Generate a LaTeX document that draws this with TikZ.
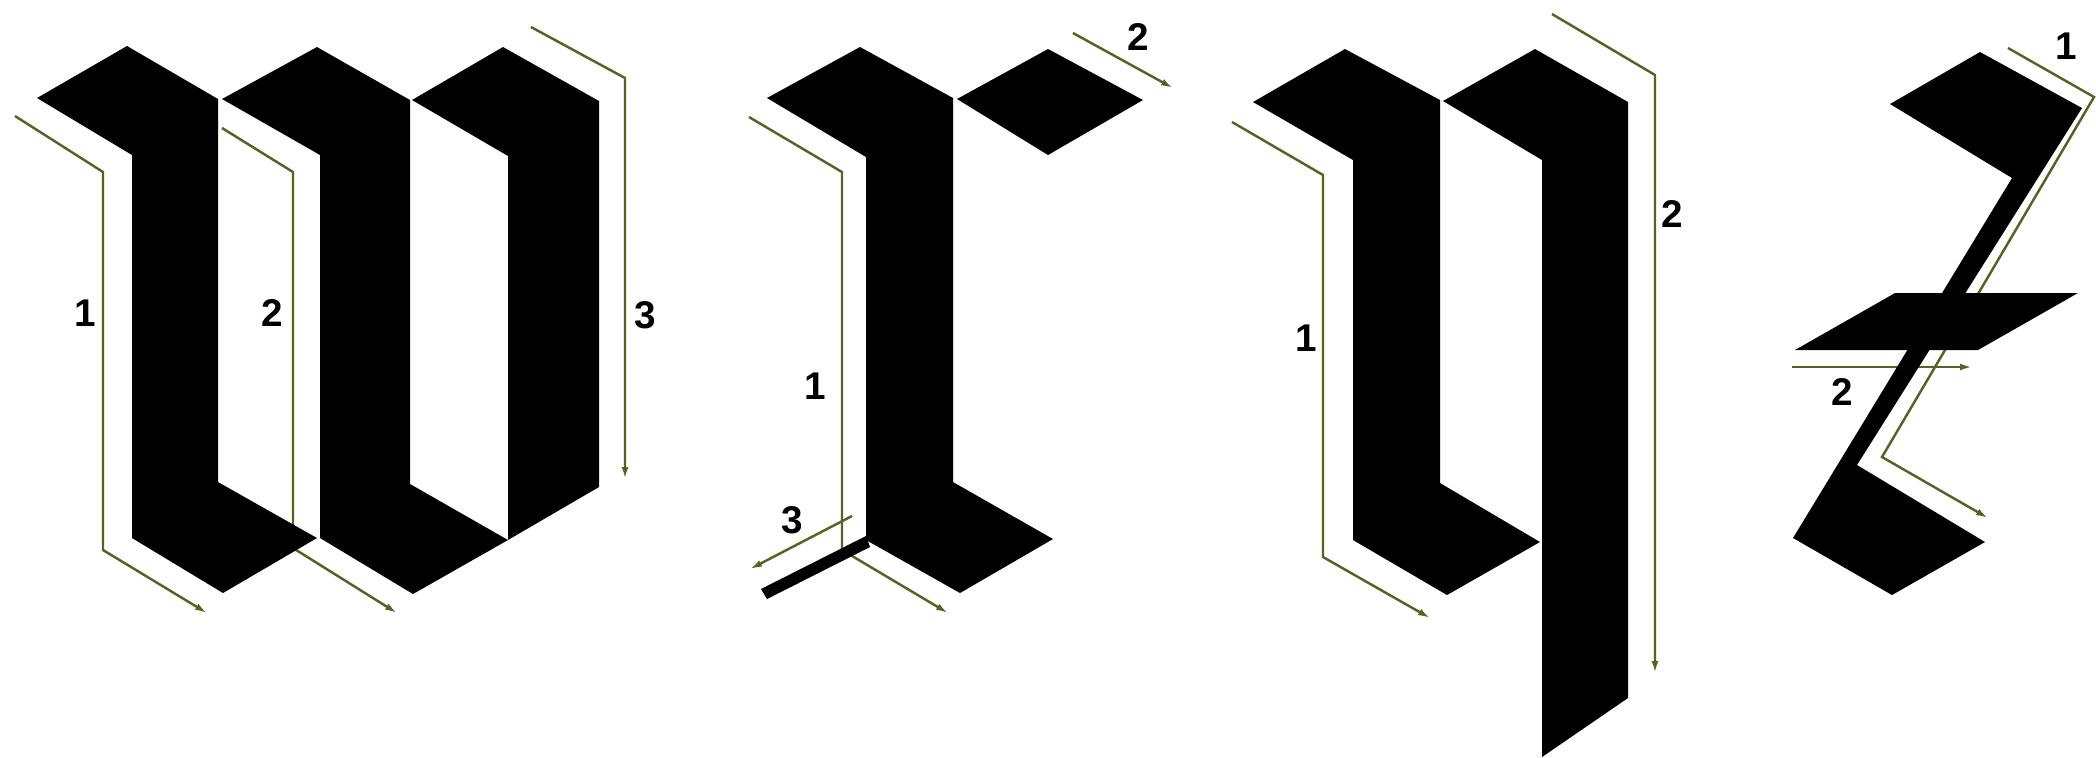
\documentclass[tikz,border=0pt]{standalone}
\usepackage{fontspec}
\setsansfont{Liberation Sans}
\usepackage{xcolor}
\usepackage{tikz}
\usetikzlibrary{arrows.meta}

\definecolor{guidecol}{RGB}{92,96,36}

\begin{document}
\begin{tikzpicture}[
		x=0.1mm,y=-0.1mm,
		font=\sffamily\bfseries\fontsize{11}{12}\selectfont,
		ink/.style={fill=black,draw=none},
		guide/.style={draw=guidecol,line width=0.7pt,-{Latex[length=1.2mm,width=0.7mm]}},
		num/.style={inner sep=0pt}
		]
		\useasboundingbox (0,0) rectangle (2096,757);

		% stroke order guides (under the letters)
		\draw[guide] (15,116) -- (103,172) -- (103,550) -- (207,613);
		\draw[guide] (222,128) -- (293,172) -- (293,548) -- (397,613);
		\draw[guide] (531,27) -- (625,78) -- (625,479);
		\draw[guide] (749,117) -- (842,172) -- (842,550) -- (948,613);
		\draw[guide] (1073,33) -- (1173,88);
		\draw[guide] (852,516) -- (750,569);
		\draw[guide] (1232,122) -- (1323,175) -- (1323,557) -- (1430,618);
		\draw[guide] (1552,14) -- (1655,75) -- (1655,673);
		\draw[guide] (2008,48) -- (2094,97) -- (1882,457) -- (1988,518);
		\draw[guide] (1792,367) -- (1972,367);

		% w
		\fill[ink] (37,98) -- (127,46) -- (218,99) -- (218,482) -- (317,538) -- (223,593) -- (132,538) -- (132,155) -- cycle;
		\fill[ink] (222,99) -- (317,47) -- (410,100) -- (410,484) -- (508,540) -- (413,594) -- (320,538) -- (320,155) -- cycle;
		\fill[ink] (412,100) -- (503,47) -- (599,101) -- (599,487) -- (508,540) -- (508,156) -- cycle;

		% r
		\fill[ink] (767,98) -- (860,47) -- (953,98) -- (953,482) -- (1053,539) -- (960,593) -- (866,540) -- (866,157) -- cycle;
		\fill[ink] (957,99) -- (1048,49) -- (1143,100) -- (1048,155) -- cycle;
		\fill[ink] (761,589) -- (866,536) -- (870,547) -- (767,599) -- cycle;

		% y
		\fill[ink] (1253,102) -- (1345,49) -- (1440,100) -- (1440,483) -- (1540,542) -- (1447,595) -- (1353,540) -- (1353,160) -- cycle;
		\fill[ink] (1443,101) -- (1535,49) -- (1628,102) -- (1628,698) -- (1542,757) -- (1542,160) -- cycle;

		% z
		\fill[ink] (1890,104) -- (1980,52) -- (2082,108) -- (1857,465) -- (1985,542) -- (1892,595) -- (1793,538) -- (2012,178) -- cycle;
		\fill[ink] (1895,293) -- (2078,293) -- (1978,350) -- (1795,350) -- cycle;

		% numbers
		\node[num] (w1) at (85,313) {1};
		\node[num] (w2) at (272,313) {2};
		\node[num] (w3) at (645,315) {3};
		\node[num] (r1) at (815,386) {1};
		\node[num] (r2) at (1138,37) {2};
		\node[num] (r3) at (792,520) {3};
		\node[num] (y1) at (1306,338) {1};
		\node[num] (y2) at (1672,214) {2};
		\node[num] (z1) at (2066,46) {1};
		\node[num] (z2) at (1842,392) {2};

	\end{tikzpicture}
\end{document}
